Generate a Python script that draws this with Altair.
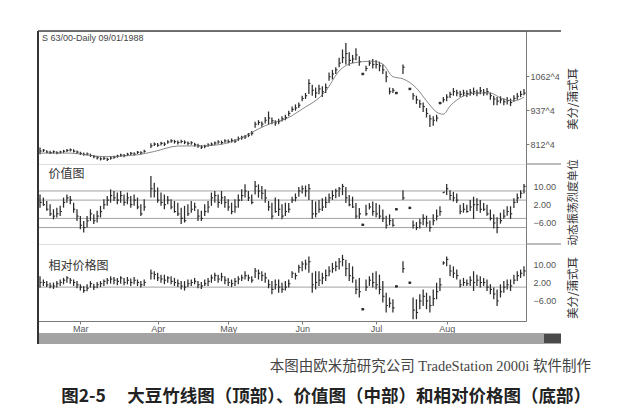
import altair as alt
import pandas as pd

# ---------------- data ----------------
# bar index 0..144 = trading days from mid-Feb 1988 to 09/01/1988
month_start_idx = [12, 35, 56, 78, 100, 121]
month_names = ["Mar", "Apr", "May", "Jun", "Jul", "Aug"]

# top panel: soybean price (cents / bushel)
cl_feb = [787, 790, 783, 781, 784, 780, 783, 786, 789, 791, 786, 783]
hi_feb = [800, 794, 790, 788, 789, 786, 788, 791, 794, 796, 793, 789]
lo_feb = [775, 783, 779, 776, 778, 775, 778, 780, 783, 785, 781, 777]
cl_mar = [778, 774, 776, 770, 766, 762, 758, 760, 756, 761, 764, 768, 772, 770, 775, 778, 776, 782, 780, 786, None, 806, 812]
hi_mar = [784, 781, 781, 777, 772, 768, 764, 766, 762, 766, 769, 773, 777, 776, 780, 783, 782, 787, 786, 791, None, 815, 818]
lo_mar = [772, 769, 770, 765, 760, 756, 752, 754, 750, 755, 758, 762, 766, 764, 769, 772, 770, 776, 774, 780, None, 798, 805]
cl_apr = [808, 815, 812, 820, 824, 821, 818, 822, 819, 815, 817, 810, 806, 801, 804, 809, 812, 816, 820, 818, 824]
hi_apr = [816, 821, 819, 826, 830, 828, 825, 828, 826, 822, 823, 817, 813, 808, 810, 815, 818, 822, 826, 825, 830]
lo_apr = [802, 807, 805, 813, 817, 814, 811, 815, 812, 808, 810, 803, 799, 794, 797, 802, 805, 809, 813, 811, 817]
cl_may = [822, 826, 823, 832, 836, 838, 845, 852, 885, 892, 886, 900, 908, 898, 890, 895, 905, 910, 925, 940, 945, 955]
hi_may = [829, 833, 830, 840, 843, 846, 853, 860, 894, 900, 895, 912, 932, 910, 900, 905, 915, 920, 935, 950, 958, 965]
lo_may = [815, 818, 816, 824, 828, 831, 838, 844, 872, 882, 876, 888, 884, 885, 880, 885, 895, 900, 915, 930, 935, 945]
cl_jun = [980, 990, 1035, 1010, 1000, 1015, 1005, 1020, 1060, 1070, 1085, 1110, 1130, 1145, 1120, 1125, 1140, 1115, 1070, 1090, 1110, 1105]
hi_jun = [990, 1000, 1051, 1030, 1020, 1030, 1025, 1035, 1075, 1085, 1095, 1130, 1160, 1184, 1150, 1140, 1165, 1135, 1070, 1100, 1120, 1125]
lo_jun = [970, 978, 996, 990, 982, 995, 985, 1000, 1045, 1050, 1070, 1095, 1110, 1105, 1100, 1110, 1120, 1100, 1070, 1080, 1100, 1090]
cl_jul = [1105, 1100, 1085, 1060, 1005, 1010, 1000, None, 1095, None, 1015, 990, 975, 960, 950, 925, 905, 900, 908, 963, 975]
hi_jul = [1120, 1115, 1105, 1080, 1020, 1018, 1000, None, 1105, None, 1015, 1000, 990, 975, 965, 945, 920, 915, 920, 963, 985]
lo_jul = [1090, 1080, 1070, 1040, 995, 1000, 1000, None, 1070, None, 1015, 975, 960, 945, 930, 910, 875, 880, 895, 963, 965]
cl_aug = [985, 995, 1005, 1000, 995, 1000, 998, 1003, 1005, 1000, 1008, 1002, 1005, 990, 978, 970, 975, 968, 972, 965, 980, 988, 995, 1000]
hi_aug = [995, 1005, 1018, 1012, 1008, 1012, 1010, 1015, 1020, 1012, 1022, 1015, 1018, 1002, 990, 985, 988, 980, 985, 980, 992, 1000, 1008, 1015]
lo_aug = [970, 982, 990, 988, 985, 988, 985, 990, 992, 988, 995, 990, 992, 975, 955, 955, 962, 955, 958, 952, 968, 975, 985, 992]

# moving-average line read at key points (bar index, price)
ma_idx = [0, 9, 19, 29, 34, 41, 49, 55, 61, 65, 69, 73, 78, 85, 89, 93, 99, 102, 105, 108, 112, 115, 118, 120, 122, 126, 130, 134, 137, 141, 144]
ma_val = [779, 779, 766, 773, 785, 805, 806, 814, 842, 868, 890, 904, 941, 1007, 1081, 1110, 1117, 1106, 1060, 1052, 1018, 971, 930, 922, 952, 989, 1000, 1000, 982, 971, 985]

# middle panel: value chart
vh_feb = [6.5, 5.1, 3.6, 2.2, 0.0, 0.7, 1.5, 5.1, 6.5, 5.8, 2.9, 0.0]
vl_feb = [0.7, 1.5, -0.7, -2.9, -4.4, -3.6, -2.9, 0.7, 2.9, 2.2, -1.5, -5.1]
vc_feb = [3, 2, 0, -2, -3, -2, -1, 3, 5, 4, 0, -3]
vh_mar = [-2.9, -5.1, -2.9, 0.0, -2.2, -0.7, 1.5, 4.4, 5.8, 8.7, 8.0, 7.3, 8.0, 6.5, 7.3, 5.8, 6.5, 5.1, 2.2, 4.4, None, 14.5, 11.6]
vl_mar = [-8.7, -10.2, -8.0, -5.1, -6.5, -5.8, -3.6, 0.0, 1.5, 2.9, 3.6, 2.2, 2.9, 1.5, 2.2, 0.7, 1.5, 0.0, -2.9, -0.7, None, 5.1, 5.1]
vc_mar = [-7, -8, -5, -2, -5, -3, -1, 2, 4, 6, 5, 4, 6, 3, 5, 2, 4, 1, -2, 1, None, 9, 8]
vh_apr = [9.5, 7.3, 6.5, 5.8, 4.4, 3.6, 2.9, 0.7, 1.5, 2.2, 3.6, 2.9, 0.0, -0.7, 2.2, 3.6, 7.3, 8.0, 6.5, 8.0, 5.8]
vl_apr = [2.9, 1.5, 0.0, 2.2, 0.0, -1.5, -2.9, -6.5, -5.8, -2.9, -1.5, -0.7, -5.1, -5.1, -2.9, -1.5, 1.5, 2.9, 0.7, 2.2, 0.7]
vc_apr = [4, 3, 2, 4, 1, -1, -2, -4, -5, -2, 0, 1, -3, -4, -1, 1, 5, 6, 3, 5, 3]
vh_may = [4.4, 2.9, 4.4, 6.5, 8.7, 10.9, 8.0, 6.5, 12.4, 10.9, 10.2, 8.7, 3.6, 2.9, 5.1, 4.4, 2.2, 2.9, 2.7, 5.5, 6.9, 9.7]
vl_may = [-0.7, -2.2, -1.5, 0.7, 3.6, 5.1, 3.6, 2.2, 6.5, 5.1, 4.4, 2.9, -0.7, -4.4, -1.5, -2.9, -4.4, -2.9, -1.5, 2.7, 3.4, 5.5]
vc_may = [1, -1, 1, 4, 6, 8, 5, 3, 10, 8, 7, 5, 1, -3, -1, 0, -3, -1, 0, 4, 5, 8]
vh_jun = [10.4, 10.4, 11.1, 4.1, 3.4, 4.1, 4.8, 5.5, 6.9, 8.3, 9.0, 9.7, 11.1, 9.7, 6.2, 5.5, 2.7, 0.6, -6.8, 2.0, 2.7, 3.4]
vl_jun = [6.9, 5.5, 4.1, -4.2, -3.5, -1.5, -0.8, 0.6, 2.7, 4.1, 4.8, 5.5, 6.2, 2.7, 1.3, 0.6, -4.2, -4.2, -6.8, -2.8, -0.1, -2.8]
vc_jun = [9, 8, 9, -2, -2, 0, 1, 3, 5, 6, 8, 9, 10, 5, 2, 1, -3, -2, -6.8, -2, 1, -1]
vh_jul = [2.7, 2.0, -0.1, -2.8, -2.2, -4.2, 0.0, None, 8.3, None, 0.6, -4.9, -5.6, -4.2, -2.2, -2.8, -4.9, -2.2, -0.1, 1.3, 7.6]
vl_jul = [-3.5, -4.2, -5.6, -8.4, -7.0, -7.7, 0.0, None, 4.1, None, 0.6, -8.4, -9.1, -8.4, -7.0, -7.7, -9.8, -7.0, -4.9, -2.8, 7.0]
vc_jul = [-2, -3, -4, -7, -5, -7, 0.0, None, 5, None, 0.6, -7, -8, -6, -4, -6, -8, -5, -3, -1, 7.5]
vh_aug = [11.1, 8.3, 7.6, 6.9, 2.0, 2.7, 2.0, 4.1, 5.5, 4.8, 4.1, 2.7, 2.0, -0.1, -2.2, -3.5, -1.5, -0.1, 1.3, 1.3, 4.8, 6.9, 8.3, 11.1]
vl_aug = [6.2, 4.1, 3.4, 2.7, -2.2, -1.5, -1.5, -0.8, -4.2, -0.8, -1.5, -0.8, -2.8, -4.9, -8.4, -10.5, -6.3, -4.2, -2.8, -4.2, 0.6, 2.7, 4.8, 6.9]
vc_aug = [9, 6, 5, 4, -1, 0, -1, 1, 2, 2, 0, 0, -2, -4, -6, -8, -5, -3, -1, -2, 3, 5, 7, 10]
value_levels = [8, 4, -4, -8]

# bottom panel: relative price chart
rh_feb = [4.7, 3.3, 2.6, 1.9, 2.0, 2.6, 3.3, 4.0, 4.7, 4.0, 3.3, 2.6]
rl_feb = [-0.2, 0.5, 0.0, -0.5, -0.8, -0.2, 0.5, 1.2, 1.9, 1.5, 0.5, -0.5]
rc_feb = [2, 2, 1, 0.5, 0.5, 1.5, 2, 3, 4, 3, 2, 1]
rh_mar = [1.2, 0.5, 1.2, 2.6, 1.5, 2.2, 2.6, 3.3, 4.0, 4.7, 4.4, 4.0, 4.7, 4.0, 4.4, 3.7, 4.4, 3.3, 2.6, 3.3, None, 7.6, 6.9]
rl_mar = [-1.5, -2.4, -1.8, -0.2, -1.2, -0.5, 0.0, 0.5, 1.2, 1.5, 1.2, 0.8, 1.5, 0.8, 1.2, 0.5, 1.2, 0.5, -0.2, 0.5, None, 3.3, 3.3]
rc_mar = [0, -1.5, -0.5, 1.5, 0, 1, 1.5, 2.5, 3, 3.5, 3, 2.5, 4, 2, 3, 2, 3, 2, 1, 2, None, 6, 5.5]
rh_apr = [6.2, 5.4, 5.4, 4.7, 4.7, 4.0, 3.3, 2.6, 2.6, 3.3, 3.3, 4.0, 2.6, 2.2, 3.3, 4.0, 5.4, 6.2, 5.4, 6.2, 4.7]
rl_apr = [2.6, 1.9, 1.2, 1.9, 1.2, 0.5, 0.0, -1.0, -1.5, 0.0, 0.5, 1.2, -0.5, -0.8, 0.5, 0.5, 1.9, 2.6, 1.9, 2.6, 1.2]
rc_apr = [4, 3.5, 3, 4, 2.5, 2, 1.5, 0.5, 0, 1.5, 2, 2.5, 1, 0.5, 1.5, 2.5, 4, 5, 3.5, 4.5, 3]
rh_may = [4.0, 3.3, 4.0, 4.7, 5.4, 6.9, 5.4, 4.7, 8.3, 7.6, 6.9, 6.2, 3.3, 2.6, 3.3, 3.3, 1.9, 2.6, 3.3, 6.9, 6.2, 9.7]
rl_may = [0.5, 0.0, 0.5, 1.2, 2.6, 3.3, 2.6, 1.9, 4.0, 3.3, 2.6, 1.9, -0.5, -3.1, -1.0, -2.4, -2.4, -1.5, -0.2, 4.0, 3.3, 6.2]
rc_may = [2, 1.5, 2.5, 3.5, 4, 5, 4, 3, 7, 6, 5, 4, 1, -1, 1, 0, -1, 0, 1.5, 6, 5, 8.5]
rh_jun = [11.2, 11.9, 13.3, 6.2, 6.9, 6.9, 6.2, 7.6, 9.0, 10.5, 11.2, 12.6, 14.0, 11.9, 10.5, 9.0, 3.3, 4.0, -9.6, 3.3, 4.7, 6.2]
rl_jun = [6.9, 7.6, 6.2, -2.4, -1.0, 0.5, 1.2, 2.6, 4.7, 6.2, 6.9, 7.6, 9.0, 4.7, 2.6, 1.9, -3.1, -4.5, -9.6, -1.7, 0.5, -0.2]
rc_jun = [10, 10, 11, 1, 2, 3, 4, 5, 7, 8, 9, 11, 12, 8, 5, 4, -1, -2, -9.6, 0, 3, 2]
rh_jul = [6.9, 5.4, 2.6, -2.4, -4.5, -5.3, 0.3, None, 11.2, None, 1.9, -4.5, -5.3, -3.1, -1.0, -2.4, -3.8, -1.0, 1.9, 4.0, 11.2]
rl_jul = [-1.0, -3.1, -6.7, -11.0, -8.9, -11.0, 0.3, None, 6.2, None, 1.9, -13.9, -13.9, -9.6, -8.2, -9.6, -11.0, -8.2, -5.3, -1.7, 9.7]
rc_jul = [1, -1, -4, -8, -7, -9, 0.3, None, 8, None, 1.9, -10, -11, -6, -4, -6, -8, -5, -2, 1, 10.5]
rh_aug = [13.3, 9.7, 9.0, 7.6, 3.3, 4.0, 3.3, 4.7, 6.9, 5.4, 4.7, 4.0, 3.3, 1.2, -0.2, -1.0, 1.2, 2.6, 3.3, 3.3, 5.4, 6.9, 7.6, 9.0]
rl_aug = [9.0, 4.7, 4.0, 3.3, -0.2, 0.5, 0.5, 0.5, -1.7, 0.5, -0.2, 0.5, -1.7, -3.1, -5.3, -8.2, -4.5, -2.4, -1.0, -1.7, 1.2, 2.6, 4.0, 4.7]
rc_aug = [12, 7, 6, 5, 1, 2, 1.5, 3, 2, 3, 2, 2, 0, -1, -3, -6, -2, 0, 1, 0.5, 3, 5, 6, 7]
relative_levels = [0]

price_ticks = [812.5, 937.5, 1062.5]
osc_ticks = [10, 2, -6]

header_text = "S 63/00-Daily   09/01/1988"
caption_text = "本图由欧米茄研究公司 TradeStation 2000i 软件制作"
figure_text = "图2-5\u3000 大豆竹线图（顶部）、价值图（中部）和相对价格图（底部）\u3000"

# ---------------- assemble tables ----------------
def ohlc(hi_parts, lo_parts, cl_parts):
    hi = sum(hi_parts, [])
    lo = sum(lo_parts, [])
    cl = sum(cl_parts, [])
    n = min(len(hi), len(lo), len(cl))
    df = pd.DataFrame({"i": list(range(n)), "hi": hi[:n], "lo": lo[:n], "cl": cl[:n]})
    df = df.dropna().reset_index(drop=True)
    df["xe"] = df["i"] + 0.5
    return df

top_df = ohlc([hi_feb, hi_mar, hi_apr, hi_may, hi_jun, hi_jul, hi_aug],
              [lo_feb, lo_mar, lo_apr, lo_may, lo_jun, lo_jul, lo_aug],
              [cl_feb, cl_mar, cl_apr, cl_may, cl_jun, cl_jul, cl_aug])
mid_df = ohlc([vh_feb, vh_mar, vh_apr, vh_may, vh_jun, vh_jul, vh_aug],
              [vl_feb, vl_mar, vl_apr, vl_may, vl_jun, vl_jul, vl_aug],
              [vc_feb, vc_mar, vc_apr, vc_may, vc_jun, vc_jul, vc_aug])
bot_df = ohlc([rh_feb, rh_mar, rh_apr, rh_may, rh_jun, rh_jul, rh_aug],
              [rl_feb, rl_mar, rl_apr, rl_may, rl_jun, rl_jul, rl_aug],
              [rc_feb, rc_mar, rc_apr, rc_may, rc_jun, rc_jul, rc_aug])
ma_df = pd.DataFrame({"i": ma_idx, "v": ma_val})

INK = "#2b2b2b"
GREY = "#7a7a7a"
W = 488
H_TOP, H_MID, H_BOT = 133, 80, 77
XS = alt.Scale(domain=[-0.6, 144.6], nice=False, zero=False)
CJK = "Noto Sans CJK SC"
LAT = "Liberation Sans"


def right_axis(values, title, h, ty, tsize, **kw):
    return alt.Axis(orient="right", values=values, title=title, titleX=47, titleY=ty,
                    titleAngle=270, titleAlign="center", titleBaseline="middle",
                    titleFont=CJK, titleFontSize=tsize, titleFontWeight="normal",
                    titleColor="#333", labelFont=LAT, labelFontSize=9, labelColor="#555",
                    domainColor=GREY, tickColor=GREY, grid=False, **kw)


def xenc(field, xaxis):
    if xaxis is None:
        return alt.X(field, scale=XS, axis=None)
    return alt.X(field, scale=XS, axis=xaxis)


def bars(df, ys, yaxis, xaxis=None):
    base = alt.Chart(df)
    rng = base.mark_rule(color=INK, strokeWidth=1.25).encode(
        x=xenc("i:Q", xaxis), y=alt.Y("lo:Q", scale=ys, axis=yaxis), y2="hi:Q")
    tick = base.mark_rule(color=INK, strokeWidth=1.1).encode(
        x=xenc("i:Q", xaxis), x2="xe:Q",
        y=alt.Y("cl:Q", scale=ys, axis=yaxis))
    dots = base.transform_filter("datum.hi == datum.lo").mark_square(
        color=INK, size=6, opacity=1).encode(
        x=xenc("i:Q", xaxis), y=alt.Y("cl:Q", scale=ys, axis=yaxis))
    return [rng, tick, dots]


def frame_rules(h, top_line=False, sep=False):
    one = pd.DataFrame({"k": [0]})
    out = [alt.Chart(one).mark_rule(color="#333", strokeWidth=2).encode(
        x=alt.value(0), y=alt.value(0), y2=alt.value(h))]
    if top_line:
        out.append(alt.Chart(one).mark_rule(color="#444", strokeWidth=1.5).encode(
            x=alt.value(0), x2=alt.value(W + 35), y=alt.value(0)))
    if sep:
        out.append(alt.Chart(one).mark_rule(color=GREY, strokeWidth=1).encode(
            x=alt.value(W), x2=alt.value(W + 35), y=alt.value(0)))
    return out


# ---- top panel
ys_top = alt.Scale(domain=[739, 1228], nice=False, zero=False)
top_axis = right_axis(price_ticks, "美分/蒲式耳", H_TOP, H_TOP / 2 + 1, 11.5,
                      labelExpr="floor(datum.value) + '^4'", tickSize=3, labelPadding=1)
ma_line = alt.Chart(ma_df).mark_line(color="#6a6a6a", strokeWidth=0.8, interpolate="monotone").encode(
    x=xenc("i:Q", None), y=alt.Y("v:Q", scale=ys_top, axis=top_axis))
head = alt.Chart(pd.DataFrame({"i": [0.6], "v": [1203], "t": [header_text]})).mark_text(
    align="left", baseline="middle", font=LAT, fontSize=9, color="#444").encode(
    x=xenc("i:Q", None), y=alt.Y("v:Q", scale=ys_top, axis=top_axis), text="t:N")
top = alt.layer(*bars(top_df, ys_top, top_axis), ma_line, head,
                *frame_rules(H_TOP, top_line=True)).properties(width=W, height=H_TOP)

# ---- middle panel
ys_mid = alt.Scale(domain=[-15.2, 19.8], nice=False, zero=False)
mid_axis = right_axis(osc_ticks, "动态振荡烈度单位", H_MID, H_MID / 2 - 2, 10.8,
                      format=".2f", ticks=False, labelPadding=7)
mid_levels = alt.Chart(pd.DataFrame({"v": value_levels})).mark_rule(color="#8a8a8a", strokeWidth=0.8).encode(
    y=alt.Y("v:Q", scale=ys_mid, axis=mid_axis))
mid_label = alt.Chart(pd.DataFrame({"i": [2.5], "v": [15.6], "t": ["价值图"]})).mark_text(
    align="left", baseline="middle", font=CJK, fontSize=12, color="#333").encode(
    x=xenc("i:Q", None), y=alt.Y("v:Q", scale=ys_mid, axis=mid_axis), text="t:N")
mid = alt.layer(mid_levels, *bars(mid_df, ys_mid, mid_axis), mid_label,
                *frame_rules(H_MID, sep=True)).properties(width=W, height=H_MID)

# ---- bottom panel
ys_bot = alt.Scale(domain=[-14.7, 18.7], nice=False, zero=False)
bot_axis = right_axis(osc_ticks, "美分/蒲式耳", H_BOT, H_BOT / 2 + 5, 11.5,
                      format=".2f", ticks=False, labelPadding=7)
expr = "''"
for v, name in reversed(list(zip(month_start_idx, month_names))):
    expr = f"datum.value == {v} ? '{name}' : ({expr})"
x_axis = alt.Axis(orient="bottom", values=month_start_idx, labelExpr=expr, title=None, grid=False,
                  domainColor=GREY, tickColor=GREY, tickSize=3, labelPadding=0,
                  labelFont=LAT, labelFontSize=9, labelColor="#555", labelFlush=False)
bot_levels = alt.Chart(pd.DataFrame({"v": relative_levels})).mark_rule(color="#8a8a8a", strokeWidth=0.8).encode(
    y=alt.Y("v:Q", scale=ys_bot, axis=bot_axis))
bot_label = alt.Chart(pd.DataFrame({"i": [2.5], "v": [9.3], "t": ["相对价格图"]})).mark_text(
    align="left", baseline="middle", font=CJK, fontSize=12, color="#333").encode(
    x=xenc("i:Q", x_axis), y=alt.Y("v:Q", scale=ys_bot, axis=bot_axis), text="t:N")
one = pd.DataFrame({"k": [0]})
band = alt.Chart(one).mark_rect(color="#a3a3a3").encode(
    x=alt.value(0), x2=alt.value(W + 35), y=alt.value(H_BOT + 12), y2=alt.value(H_BOT + 23))
band_end = alt.Chart(one).mark_rect(color="#4a4a4a").encode(
    x=alt.value(W + 18), x2=alt.value(W + 35), y=alt.value(H_BOT + 13), y2=alt.value(H_BOT + 22))
band_left = alt.Chart(one).mark_rule(color="#333", strokeWidth=2).encode(
    x=alt.value(0), y=alt.value(H_BOT), y2=alt.value(H_BOT + 23))
bot = alt.layer(bot_levels, *bars(bot_df, ys_bot, bot_axis, x_axis), bot_label,
                *frame_rules(H_BOT, sep=True), band, band_end, band_left).properties(width=W, height=H_BOT)

chart = alt.vconcat(top, mid, bot, spacing=0, bounds="flush").properties(
    padding={"left": 28, "top": 21, "right": 5, "bottom": 5},
    title=alt.TitleParams(text=caption_text, subtitle=figure_text, orient="bottom", anchor="end",
                          dx=12, offset=14, font="'Liberation Serif', 'Noto Sans CJK SC'", fontSize=14.5,
                          fontWeight="normal", color="#444", subtitleFont=CJK, subtitleFontSize=17.5,
                          subtitleFontWeight="bold", subtitleColor="#222", subtitlePadding=14)
).configure_view(stroke=None).configure(background="white")

chart.save("out.html", embed_options={"renderer": "svg", "actions": False})
